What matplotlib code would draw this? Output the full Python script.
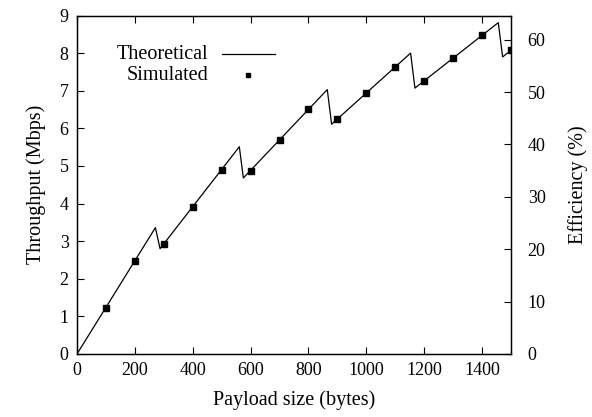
import matplotlib
matplotlib.use("Agg")
import matplotlib.pyplot as plt

plt.rcParams['font.family'] = ['Liberation Serif', 'DejaVu Serif']
plt.rcParams['font.size'] = 13

# Theoretical throughput curve (vertices of sawtooth)
theo_x = [0, 271, 287, 561, 575, 865, 880, 1153, 1168, 1456, 1471, 1500]
theo_y = [0, 3.36, 2.80, 5.51, 4.68, 7.03, 6.11, 8.00, 7.07, 8.81, 7.90, 8.07]

# Simulated throughput
sim_x = [100, 200, 300, 400, 500, 600, 700, 800, 900, 1000, 1100, 1200, 1300, 1400, 1500]
sim_y = [1.22, 2.46, 2.93, 3.91, 4.90, 4.87, 5.68, 6.51, 6.25, 6.94, 7.64, 7.27, 7.88, 8.48, 8.07]

x_ticks = [0, 200, 400, 600, 800, 1000, 1200, 1400]
y_ticks = [0, 1, 2, 3, 4, 5, 6, 7, 8, 9]
y2_ticks = [0, 10, 20, 30, 40, 50, 60]
Y_MAX = 9
Y2_MAX = 64.6

LABEL_FS = 14.5

fig = plt.figure(figsize=(5.92, 4.17), dpi=100)
ax = fig.add_axes([77/592, 1 - 354/417, (511-77)/592, (354-15.5)/417])

ax.plot(theo_x, theo_y, color='black', lw=0.9)
ax.plot(sim_x, sim_y, ls='none', marker='s', ms=4.3, color='black')

ax.set_xlim(0, 1500)
ax.set_ylim(0, Y_MAX)
ax.set_xticks(x_ticks)
ax.set_yticks(y_ticks)
ax.tick_params(direction='in', length=5, width=0.8, top=True, right=False, pad=6)
for s in ax.spines.values():
    s.set_linewidth(1.0)

ax.set_xlabel('Payload size (bytes)', fontsize=LABEL_FS, labelpad=8)
ax.set_ylabel('Throughput (Mbps)', fontsize=LABEL_FS, labelpad=10)

ax2 = ax.twinx()
ax2.set_ylim(0, Y2_MAX)
ax2.set_yticks(y2_ticks)
ax2.tick_params(direction='in', length=5, width=0.8, pad=12)
ax2.set_ylabel('Efficiency (%)', fontsize=LABEL_FS, labelpad=16)

# Legend (gnuplot style: right-aligned text, sample to the right)
ax.text(0.302, 0.886, 'Theoretical', transform=ax.transAxes, ha='right', va='center', fontsize=LABEL_FS)
ax.text(0.302, 0.824, 'Simulated', transform=ax.transAxes, ha='right', va='center', fontsize=LABEL_FS)
ax.plot([0.334, 0.456], [0.886, 0.886], transform=ax.transAxes, color='black', lw=0.9)
ax.plot([0.394], [0.824], transform=ax.transAxes, ls='none', marker='s', ms=3, color='black')

fig.savefig('out.png', dpi=100)
